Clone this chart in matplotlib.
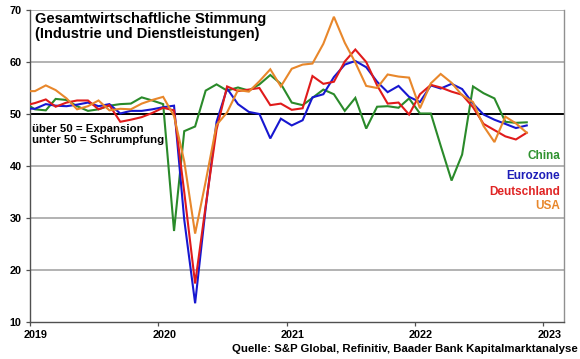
import matplotlib
matplotlib.use("Agg")
import matplotlib.pyplot as plt
import matplotlib.transforms as mtrans
import pandas as pd

# Monthly composite PMI, Dec 2018 .. Nov 2022
start_month = "2018-12-01"
china = [52.2, 50.9, 50.7, 52.9, 52.7, 51.5, 50.6, 50.9, 51.6, 51.9, 52.0, 53.2, 52.6,
         51.9, 27.5, 46.7, 47.6, 54.5, 55.7, 54.5, 55.1, 54.5, 55.7, 57.5, 55.8,
         52.2, 51.7, 53.1, 54.7, 53.8, 50.6, 53.1, 47.2, 51.4, 51.5, 51.2, 53.0,
         50.1, 50.1, 43.9, 37.2, 42.2, 55.3, 54.0, 53.0, 48.5, 48.3, 48.4]
eurozone = [51.1, 51.0, 51.9, 51.6, 51.5, 51.8, 52.2, 51.5, 51.9, 50.1, 50.6, 50.6, 50.9,
            51.3, 51.6, 29.7, 13.6, 31.9, 48.5, 54.9, 51.9, 50.4, 50.0, 45.3, 49.1,
            47.8, 48.8, 53.2, 53.8, 57.1, 59.5, 60.2, 59.0, 56.2, 54.2, 55.4, 53.3,
            52.3, 55.5, 54.9, 55.8, 54.8, 52.0, 49.9, 48.9, 48.1, 47.3, 47.8]
deutschland = [51.6, 52.1, 52.8, 51.4, 52.2, 52.6, 52.6, 50.9, 51.7, 48.5, 48.9, 49.4, 50.2,
               51.2, 50.7, 35.0, 17.4, 32.3, 47.0, 55.3, 54.4, 54.7, 55.0, 51.7, 52.0,
               50.8, 51.1, 57.3, 55.8, 56.2, 60.1, 62.4, 60.0, 55.5, 52.0, 52.2, 49.9,
               53.8, 55.6, 55.1, 54.3, 53.7, 51.3, 48.1, 46.9, 45.7, 45.1, 46.4]
usa = [54.4, 54.4, 55.5, 54.6, 53.0, 50.9, 51.5, 52.6, 50.7, 51.0, 50.9, 52.0, 52.7,
       53.3, 49.6, 40.9, 27.0, 37.0, 47.9, 50.3, 54.6, 54.3, 56.3, 58.6, 55.3,
       58.7, 59.5, 59.7, 63.5, 68.7, 63.7, 59.9, 55.4, 55.0, 57.6, 57.2, 57.0,
       51.1, 55.9, 57.7, 56.0, 53.6, 52.3, 47.7, 44.6, 49.5, 48.2, 46.4]

series_names = ["China", "Eurozone", "Deutschland", "USA"]
series_values = [china, eurozone, deutschland, usa]
series_colors = ["#2a8a2a", "#1717d0", "#e01b1b", "#e8872b"]
label_colors = ["#2f922f", "#1d1db8", "#e02525", "#e8872b"]

year_ticks = ["2019", "2020", "2021", "2022", "2023"]
y_ticks = [10, 20, 30, 40, 50, 60, 70]

title = "Gesamtwirtschaftliche Stimmung\n(Industrie und Dienstleistungen)"
note = "über 50 = Expansion\nunter 50 = Schrumpfung"
source = "Quelle: S&P Global, Refinitiv, Baader Bank Kapitalmarktanalyse"

plt.rcParams["font.family"] = ["Liberation Sans", "DejaVu Sans"]
plt.rcParams["font.weight"] = "bold"

W, H = 580, 359
fig = plt.figure(figsize=(W / 100, H / 100), dpi=100)
ax = fig.add_axes([30 / W, 1 - 322 / H, (564 - 30) / W, (322 - 10) / H])

dates = pd.date_range(start_month, periods=len(china), freq="MS") + pd.Timedelta(days=14)

for name, vals, col in zip(series_names, series_values, series_colors):
    ax.plot(dates, vals, color=col, lw=1.5, solid_joinstyle="miter", zorder=3)

ax.set_ylim(10, 70)
ax.set_yticks(y_ticks)
ax.set_xlim(pd.Timestamp("2019-01-01"), pd.Timestamp("2023-03-01"))
ax.set_xticks([pd.Timestamp(f"{y}-01-01") for y in year_ticks])
ax.set_xticklabels(year_ticks)

for yv in y_ticks:
    if yv == 50:
        ax.axhline(yv, color="black", lw=1.4, zorder=2)
    elif yv != 10:
        ax.axhline(yv, color="#a6a6a6", lw=1.2, zorder=1)

ax.spines["top"].set_visible(False)
ax.spines["left"].set_color("#505050")
ax.spines["bottom"].set_color("#505050")
ax.spines["right"].set_color("#909090")
for s in ["left", "bottom", "right"]:
    ax.spines[s].set_linewidth(1.0)

ax.tick_params(axis="both", direction="out", length=3, width=0.9, color="#505050",
               labelsize=7.8, pad=2.5)
ax.tick_params(axis="y", pad=3)
off = mtrans.ScaledTranslation(6 / 100, 0, fig.dpi_scale_trans)
for lab in ax.get_xticklabels():
    lab.set_transform(lab.get_transform() + off)
    lab.set_fontweight("bold")
for lab in ax.get_yticklabels():
    lab.set_fontweight("bold")

fig.text(35 / W, 1 - 12 / H, title, fontsize=10.5, fontweight="bold", va="top", ha="left",
         linespacing=1.05)
fig.text(32 / W, 1 - 124 / H, note, fontsize=8.2, fontweight="bold", va="top", ha="left",
         linespacing=1.12)

label_y = [159.3, 179.3, 195, 209.3]
for name, col, yb in zip(series_names, label_colors, label_y):
    fig.text(560 / W, 1 - yb / H, name, fontsize=8.5, fontweight="bold", color=col,
             ha="right", va="baseline")

fig.text(578 / W, 1 - 352 / H, source, fontsize=8.2, fontweight="bold", ha="right",
         va="baseline")

fig.savefig("out.png", dpi=100)
